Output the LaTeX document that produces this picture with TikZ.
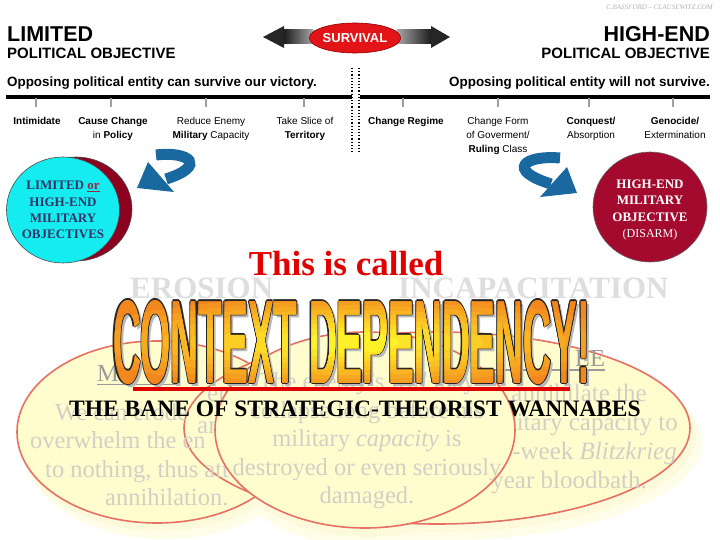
\documentclass[tikz,border=0pt]{standalone}
\usepackage{fontspec}
\setmainfont{Liberation Serif}
\newfontfamily\arial{Liberation Sans}
\newfontfamily\titlefont{Liberation Sans}
\usetikzlibrary{shapes.geometric}
\definecolor{arrblue}{RGB}{26,104,160}
\definecolor{cyanc}{RGB}{20,236,240}
\definecolor{maroonc}{RGB}{140,0,32}
\definecolor{circred}{RGB}{163,10,45}
\definecolor{navyt}{RGB}{51,51,102}
\definecolor{titlered}{RGB}{224,0,0}
\definecolor{ghost}{RGB}{222,222,222}
\definecolor{ellfill}{RGB}{255,253,205}
\definecolor{ellline}{RGB}{230,112,100}
\definecolor{bodygray}{RGB}{210,208,198}
\definecolor{headgray}{RGB}{155,155,155}
\definecolor{tOra}{RGB}{242,135,30}
\definecolor{tYel}{RGB}{255,242,40}
\definecolor{survred}{RGB}{226,20,24}
\definecolor{glowa}{RGB}{254,253,232}
\definecolor{glowb}{RGB}{252,250,218}
\newcommand\ttltext{\resizebox{477pt}{83pt}{\titlefont\bfseries CONTEXT\hspace{0.3em}DEPENDENCY!}}
\begin{document}
\begin{tikzpicture}[x=1pt,y=-1pt,
  hdrbig/.style={font=\arial\bfseries\fontsize{21.5}{24}\selectfont, inner sep=0},
  hdrsmall/.style={font=\arial\bfseries\fontsize{15}{17}\selectfont, inner sep=0},
  opp/.style={font=\arial\bfseries\fontsize{13.4}{15}\selectfont, inner sep=0},
  lbl/.style={font=\arial\fontsize{10}{14}\selectfont, inner sep=0, align=center, anchor=north},
  tickline/.style={draw=gray!75, line width=1.2},
  ghostword/.style={font=\bfseries\fontsize{31}{34}\selectfont, text=ghost, inner sep=0, anchor=base west},
  ell/.style={ellipse, fill=ellfill, draw=ellline, line width=1.6, inner sep=0},
  body/.style={font=\fontsize{24.5}{28}\selectfont, text=bodygray, inner sep=0},
  bodyr/.style={font=\fontsize{25}{28}\selectfont, text=bodygray, inner sep=0},
  head/.style={font=\fontsize{24.5}{28}\selectfont, text=headgray, inner sep=0, anchor=base west},
  ttlnode/.style={anchor=north west, inner sep=0, outer sep=0},
  circtext/.style={align=center, font=\bfseries\fontsize{13}{16.3}\selectfont, inner sep=0}
]
\useasboundingbox (0,0) rectangle (720,540);
\fill[white] (0,0) rectangle (720,540);

% credit
\node[anchor=base east, inner sep=0, font=\itshape\fontsize{7}{8}\selectfont, text=gray!60] (credit) at (713,10) {C.BASSFORD -- CLAUSEWITZ.COM};

% headers
\node[hdrbig, anchor=base west] (lim) at (7,42) {LIMITED};
\node[hdrsmall, anchor=base west] (limpo) at (7,59) {POLITICAL OBJECTIVE};
\node[hdrbig, anchor=base east] (high) at (710,42) {HIGH-END};
\node[hdrsmall, anchor=base east] (highpo) at (710,59) {POLITICAL OBJECTIVE};
\node[opp, anchor=base west] (oppl) at (7,87) {Opposing political entity can survive our victory.};
\node[opp, anchor=base east] (oppr) at (710,87) {Opposing political entity will not survive.};

% survival arrow
\shade[left color=black!90, right color=gray!70] (283,30) rectangle (313,44);
\fill[gray!40] (313,30) rectangle (320,44);
\fill[black!85] (284,26) -- (263,37) -- (284,48) -- cycle;
\shade[left color=gray!70, right color=black!90] (397,30) rectangle (432,44);
\fill[gray!40] (390,30) rectangle (397,44);
\fill[black!85] (431,26) -- (450,37) -- (431,48) -- cycle;
\node[ellipse, fill=survred, draw=red!55!black, line width=0.6, minimum width=76, minimum height=30, inner sep=0, text=white, font=\arial\bfseries\fontsize{13}{14}\selectfont] (surv) at (355,38) {SURVIVAL};

% dotted separators
\coordinate (d1t) at (352,68); \coordinate (d1b) at (352,152);
\coordinate (d2t) at (359,68); \coordinate (d2b) at (359,152);
\draw[dotted, line width=1.2] (d1t) -- (d1b);
\draw[dotted, line width=1.2] (d2t) -- (d2b);

% thick scale line
\coordinate (la) at (6,97); \coordinate (lb) at (352,97);
\coordinate (lc) at (360,97); \coordinate (ld) at (710,97);
\draw[line width=3.5] (la) -- (lb);
\draw[line width=3.5] (lc) -- (ld);
\foreach \x in {36,111,206,304,403,498,589,673}
  \draw[tickline] (\x,98.5) -- (\x,107);

% labels
\node[lbl] (l1) at (37,116.7) {\bfseries Intimidate};
\node[lbl] (l2) at (113,116.7) {\bfseries Cause Change\\in \textbf{Policy}};
\node[lbl] (l3) at (211,116.7) {Reduce Enemy\\\textbf{Military} Capacity};
\node[lbl] (l4) at (305,116.7) {Take Slice of\\\textbf{Territory}};
\node[lbl] (l5) at (406,116.7) {\bfseries Change Regime};
\node[lbl] (l6) at (498,116.7) {Change Form\\of Goverment/\\\textbf{Ruling} Class};
\node[lbl] (l7) at (591,116.7) {\bfseries Conquest/\\Absorption};
\node[lbl] (l8) at (675,116.7) {\bfseries Genocide/\\Extermination};

% blue curved arrows
\fill[arrblue] (148,162) -- (137,188) -- (174,192) -- cycle;
\draw[arrblue, line width=11] (156,155) .. controls (190,151) and (207,166) .. (166,179);
\fill[arrblue] (567,167) -- (577,193) -- (540,197) -- cycle;
\draw[arrblue, line width=11] (560,158) .. controls (524,155) and (506,170) .. (551,184);

% left circle
\node[ellipse, fill=maroonc, draw=black!70, line width=0.6, minimum width=112, minimum height=104] (lcircb) at (76,209) {};
\node[ellipse, fill=cyanc, draw=black!70, line width=0.6, minimum width=113, minimum height=106] (lcirc) at (63,210) {};
\node[circtext, text=navyt] (lctext) at (63,210) {LIMITED \textcolor{maroonc!85}{\underline{or}}\\HIGH-END\\MILITARY\\OBJECTIVES};

% right circle
\node[ellipse, fill=circred, draw=black!60, line width=0.6, minimum width=114, minimum height=110] (rcirc) at (650,207) {};
\node[circtext, text=white] (rctext) at (650,210) {HIGH-END\\MILITARY\\OBJECTIVE\\{\mdseries\fontsize{12}{16}\selectfont (DISARM)}};

% this is called
\node[anchor=base, inner sep=0, font=\bfseries\fontsize{35}{40}\selectfont, text=titlered] (called) at (346,275) {This is called};
\node[ghostword] (erosion) at (130,298) {EROSION};
\node[ghostword] (incap) at (398,298) {INCAPACITATION};

% ellipse glow
\fill[glowa] (165,446) ellipse [x radius=142, y radius=93];
\fill[glowa] (446,442) ellipse [x radius=256, y radius=98];
\fill[glowa] (373,448) ellipse [x radius=152, y radius=100];
\fill[glowb] (161,439) ellipse [x radius=141, y radius=92];
\fill[glowb] (442,435) ellipse [x radius=254, y radius=97];
\fill[glowb] (369,438) ellipse [x radius=151, y radius=99];

% ellipses
\node[ell, minimum width=280, minimum height=182] (ellL) at (157,432) {};
\node[ell, minimum width=506, minimum height=192] (ellR) at (437,428) {};

% left ellipse texts
\node[head] (lhead) at (97,381) {M};
\draw[headgray, line width=1.4] (97,384.5) -- (180,384.5);
\node[body, anchor=base west] (lt1) at (55,420) {We can erode};
\node[body, anchor=base west] (lt2) at (30,448) {overwhelm the en};
\node[body, anchor=base west] (lt3) at (45,477) {to nothing, thus att};
\node[body, anchor=base west] (lt4) at (105,505) {annihilation.};

% right ellipse texts
\node[head] (rhead) at (575,366) {LE};
\draw[headgray, line width=1.4] (483,370) -- (605,370);
\node[bodyr, anchor=base west] (rt0a) at (207,401) {er};
\node[bodyr, anchor=base west] (rt0b) at (197,433) {an};
\node[bodyr, anchor=base east] (rt1) at (647,401) {annihilate the};
\node[bodyr, anchor=base east] (rt2) at (678,430) {military capacity to};
\node[bodyr, anchor=base east] (rt3) at (677,459) {-week \textit{Blitzkrieg}};
\node[bodyr, anchor=base east] (rt4) at (647,488) {year bloodbath.};

% middle ellipse
\node[ell, minimum width=300, minimum height=196] (ellM) at (365,430) {};
\node[body, anchor=base] (mt1) at (367,389.5) {The enemy's \textit{will} may};
\node[body, anchor=base] (mt2) at (367,418) {collapse long before his};
\node[body, anchor=base] (mt3) at (367,446.5) {military \textit{capacity} is};
\node[body, anchor=base] (mt4) at (367,475) {destroyed or even seriously};
\node[body, anchor=base] (mt5) at (367,503.5) {damaged.};

% title WordArt
\node[ttlnode, text=gray!55] (tshadow) at (116,303) {\ttltext};
\foreach \dx/\dy in {-1.1/0, 1.1/0, 0/-1.1, 0/1.1, -0.8/-0.8, 0.8/-0.8, -0.8/0.8, 0.8/0.8}
  \node[ttlnode, text=black!85] at ({113+\dx},{300+\dy}) {\ttltext};
\node[ttlnode, text=tOra] (title) at (113,300) {\ttltext};
\foreach \k in {1,...,9} {
  \pgfmathtruncatemacro\pc{\k*11}
  \begin{scope}
    \clip (350,342) ellipse [x radius={300-28*\k}, y radius={50-4.4*\k}];
    \node[ttlnode, text=tYel!\pc!tOra] at (113,300) {\ttltext};
  \end{scope}
}

% red line and bane text
\coordinate (rla) at (133,389); \coordinate (rlb) at (570,389);
\draw[titlered, line width=4] (rla) -- (rlb);
\node[anchor=base, inner sep=0, font=\bfseries\fontsize{23.5}{26}\selectfont] (bane) at (355,416) {THE BANE OF STRATEGIC-THEORIST WANNABES};
\end{tikzpicture}
\end{document}
